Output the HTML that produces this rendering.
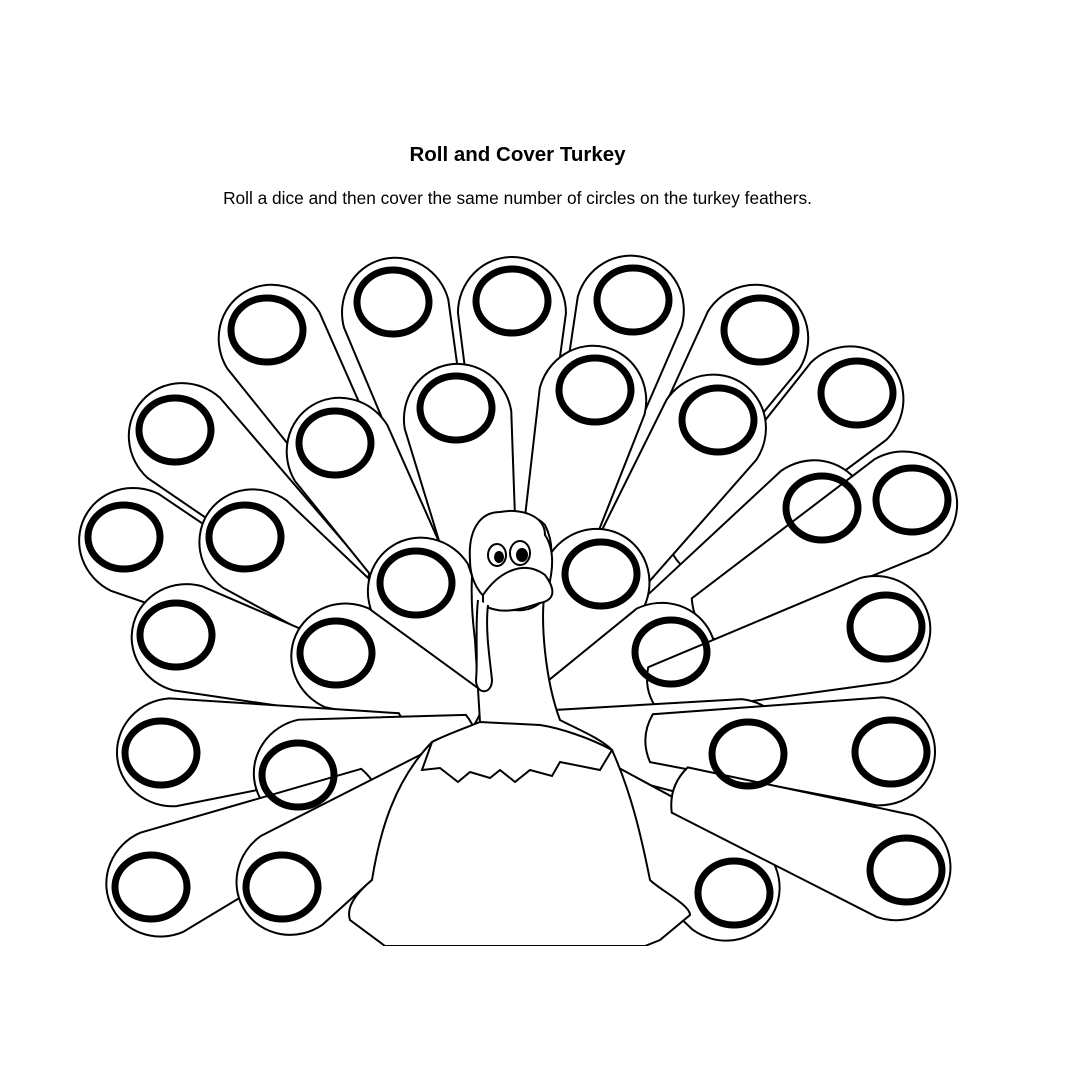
<!DOCTYPE html>
<html><head><meta charset="utf-8"><style>
html,body{margin:0;padding:0;background:#fff;width:1080px;height:1080px;overflow:hidden}
svg{position:absolute;left:0;top:0}
.t{font-family:"Liberation Sans",sans-serif;position:absolute;left:0;width:1035px;text-align:center;color:#000}
</style></head><body>
<div class="t" style="top:143px;font-size:20.5px;font-weight:bold">Roll and Cover Turkey</div>
<div class="t" style="top:188px;font-size:17.3px">Roll a dice and then cover the same number of circles on the turkey feathers.</div>
<svg id="s" width="1080" height="1080" viewBox="0 0 1080 1080">
<defs><clipPath id="c"><rect x="0" y="0" width="1080" height="946"/></clipPath></defs>
<g id="f" clip-path="url(#c)" fill="#fff" stroke="#000" stroke-width="2"></g>
<g id="o" fill="none" stroke="#000" stroke-width="7"></g>
<g fill="#fff" stroke="#000" stroke-width="2" clip-path="url(#c)">
<path d="M432,742 C445,735 470,728 480,722 L475,640 C470,600 470,560 480,530 C490,512 530,508 545,525 C555,545 552,560 545,590 C540,620 545,680 560,720 C575,728 600,738 612,750 C630,790 640,830 650,880 C660,890 690,905 690,915 L660,940 L645,946 L385,946 L350,920 C345,905 360,890 372,880 C380,830 395,780 432,742 Z"/>
<path d="M432,742 L422,770 L440,768 L458,782 L470,772 L490,778 L500,770 L515,782 L530,770 L552,776 L560,762 L600,770 L612,750 C590,738 560,728 540,725 L480,722 C465,728 445,735 432,742 Z"/>
<path d="M470,560 C468,530 480,512 500,512 C520,508 545,515 545,535 C555,550 553,570 548,590 C540,615 510,615 488,600 C475,590 470,575 470,560 Z"/>
<path d="M483,595 C500,570 525,560 545,575 C556,590 555,600 540,603 C520,610 500,615 483,605 Z"/>
<path d="M478,600 C475,625 478,660 476,680 C476,695 492,695 492,680 C490,660 485,630 488,605"/>
<ellipse cx="497" cy="555" rx="9" ry="11"/><ellipse cx="520" cy="553" rx="10" ry="12"/>
</g>
<g fill="#000"><ellipse cx="499" cy="557" rx="5" ry="6"/><ellipse cx="522" cy="555" rx="6" ry="7"/></g>
</svg>
<script>
var C=[[267,330],[393,302],[512,301],[633,300],[760,330],[857,393],[175,430],[335,443],[456,408],[595,390],[718,420],[822,508],[912,500],[124,537],[245,537],[416,583],[601,574],[176,635],[336,653],[671,652],[886,627],[161,753],[298,775],[748,754],[891,752],[151,887],[282,887],[734,893],[906,870]];
var ns="http://www.w3.org/2000/svg",f=document.getElementById('f'),o=document.getElementById('o');
var cx=510,cy=730;
C.forEach(function(p){
 var a=Math.atan2(cy-p[1],cx-p[0])*180/Math.PI;
 var d=Math.hypot(cx-p[0],cy-p[1]);var L=Math.min(d-40,240);
 var e=document.createElementNS(ns,'path');
 e.setAttribute('d','M12,-54 A56 54 0 1 0 12,54 L'+L+',24 Q'+(L+12)+',0 '+L+',-24 Z');
 e.setAttribute('transform','translate('+p[0]+','+p[1]+') rotate('+a+')');
 f.appendChild(e);
});
C.forEach(function(p){
 var e=document.createElementNS(ns,'ellipse');
 e.setAttribute('cx',p[0]);e.setAttribute('cy',p[1]);e.setAttribute('rx',36);e.setAttribute('ry',32);
 o.appendChild(e);
});
</script>
</body></html>
